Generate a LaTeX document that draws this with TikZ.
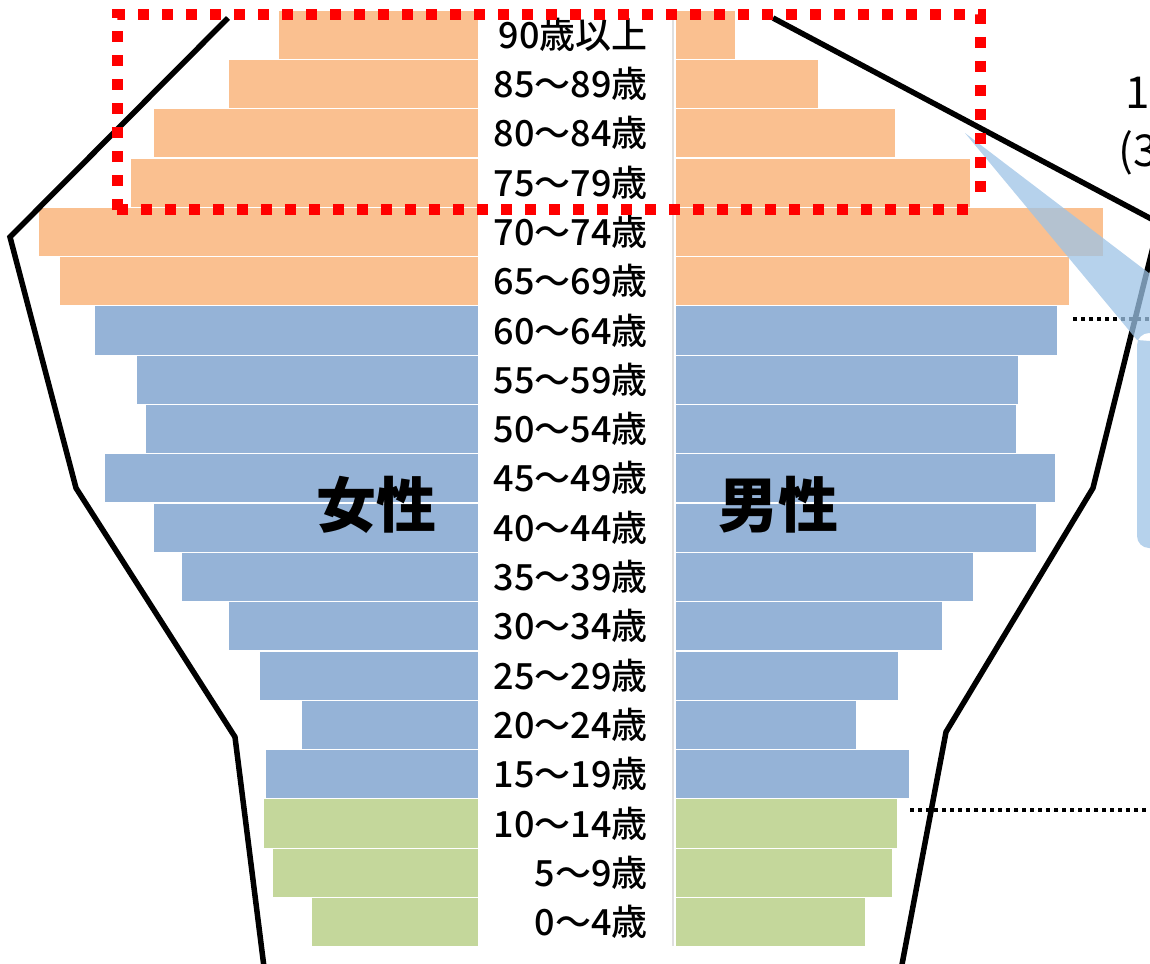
\documentclass[tikz,border=0pt]{standalone}
\usepackage{fontspec}
\setmainfont{Noto Sans CJK JP}
\newfontfamily\agefont{Noto Sans CJK JP}[UprightFont={* Medium}]
\definecolor{oldbar}{HTML}{FAC090}
\definecolor{workbar}{HTML}{95B3D7}
\definecolor{kidbar}{HTML}{C4D79B}
\definecolor{callout}{HTML}{9DC3E6}
\tikzset{
  bar/.style={draw=white,line width=1.2pt},
  agelabel/.style={anchor=east,inner sep=0pt,font=\agefont\fontsize{36}{36}\selectfont},
  sexlabel/.style={inner sep=0pt,font=\fontsize{60}{60}\selectfont\bfseries},
  outline/.style={line width=5.5pt,line join=miter},
  guide/.style={line width=4pt,dash pattern=on 4pt off 4pt},
  frame/.style={red,line width=11pt,dash pattern=on 11pt off 13pt},
  sidenote/.style={anchor=west,inner sep=0pt,font=\fontsize{44}{44}\selectfont}
}
\begin{document}
\begin{tikzpicture}[x=1pt,y=-1pt]
  \useasboundingbox (0,0) rectangle (1150,963);
  \clip (0,0) rectangle (1150,963);
  \def\h{49.3}
  \def\top{10}
  % bars and age labels
  \foreach \k/\l/\r/\c/\t in {
      0/278/736/oldbar/90歳以上, 1/228/819/oldbar/85～89歳,
      2/153/896/oldbar/80～84歳, 3/130/971/oldbar/75～79歳,
      4/38/1104/oldbar/70～74歳, 5/59/1070/oldbar/65～69歳,
      6/94/1058/workbar/60～64歳, 7/136/1019/workbar/55～59歳,
      8/145/1017/workbar/50～54歳, 9/104/1056/workbar/45～49歳,
      10/153/1037/workbar/40～44歳, 11/181/974/workbar/35～39歳,
      12/228/943/workbar/30～34歳, 13/259/899/workbar/25～29歳,
      14/301/857/workbar/20～24歳, 15/265/910/workbar/15～19歳,
      16/263/898/kidbar/10～14歳, 17/272/893/kidbar/5～9歳,
      18/311/866/kidbar/0～4歳}{
    \filldraw[bar,fill=\c] (\l,\top+\k*\h) rectangle (479,\top+\k*\h+\h);
    \filldraw[bar,fill=\c] (675,\top+\k*\h) rectangle (\r,\top+\k*\h+\h);
    \node[agelabel] (A\k) at (648,\top+\k*\h+0.5*\h) {\t};
  }
  \draw[gray!25,line width=2pt] (673,10) -- (673,946);
  \node[sexlabel] (F) at (376,505) {女性};
  \node[sexlabel] (M) at (778,505) {男性};
  % dotted guides
  \coordinate (G1) at (1073,319);
  \coordinate (G2) at (910,810);
  \draw[guide] (G1) -- (1160,319);
  \draw[guide] (G2) -- (1160,810);
  % outline of the pyramid
  \draw[outline] (228,18) -- (10,237) -- (76,488) -- (235,737) -- (265,975);
  \draw[outline] (773,18) -- (1159,223) -- (1093,488) -- (946,732) -- (900,975);
  % callout
  \fill[callout,opacity=0.75] (965,133) -- (1200,312) -- (1200,345) -- (1137,340) -- cycle
    [rounded corners=12pt] (1137,333) rectangle (1200,548);
  % frame round the old ages
  \draw[frame] (117,210) -- (117,15) -- (980,15) -- (980,205);
  \draw[frame] (117,209) -- (980,209);
  \node[sidenote] (N1) at (1125,93) {1};
  \node[sidenote] (N2) at (1118,153) {(3};
\end{tikzpicture}
\end{document}
